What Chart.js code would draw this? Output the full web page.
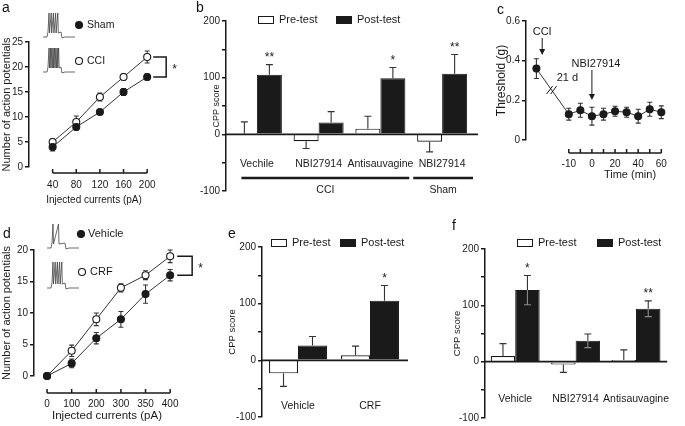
<!DOCTYPE html>
<html>
<head>
<meta charset="utf-8">
<script src="https://cdn.jsdelivr.net/npm/chart.js@4.4.1/dist/chart.umd.min.js"></script>
<style>
  html, body { margin: 0; background: #fff; }
  #fig { position: relative; width: 685px; height: 426px; overflow: hidden; }
  #fig canvas { position: absolute; left: 0; top: 0; }
  .tag { position: absolute; font: 14px 'Liberation Sans', Arial, sans-serif; color: #111; line-height: 14px; }
</style>
</head>
<body>
<div id="fig">
  <canvas id="pa" width="685" height="426"></canvas>
  <canvas id="pb" width="685" height="426"></canvas>
  <canvas id="pc" width="685" height="426"></canvas>
  <canvas id="pd" width="685" height="426"></canvas>
  <canvas id="pe" width="685" height="426"></canvas>
  <canvas id="pf" width="685" height="426"></canvas>
  <div class="tag" style="left:2px;top:0px">a</div>
  <div class="tag" style="left:196px;top:0px">b</div>
  <div class="tag" style="left:497px;top:2px">c</div>
  <div class="tag" style="left:3px;top:226px">d</div>
  <div class="tag" style="left:228px;top:226px">e</div>
  <div class="tag" style="left:452px;top:218px">f</div>
</div>
<script>
/* ---------- data ---------- */

// a: spikes vs injected current, Sham / CCI
const aCurrents = [40, 80, 120, 160, 200];
const aSham = [4, 8, 11, 15, 18];
const aShamErr = [0.8, 0.6, 0.5, 0.7, 0.6];
const aCci = [5, 9, 14, 18, 22];
const aCciErr = [0.6, 1.2, 0.8, 0.6, 1.2];

// b: CPP scores
const bGroups = ['Vechile', 'NBI27914', 'Antisauvagine', 'NBI27914'];
const bPre = [1, -12, 10, -13];
const bPreErr = [21, 13, 22, 18];
const bPost = [105, 21, 99, 107];
const bPostErr = [18, 19, 19, 34];
const bStars = ['**', '', '*', '**'];
const bSets = [['CCI', 0, 2], ['Sham', 3, 3]];

// c: paw withdrawal threshold
const cTimeTicks = ['-10', '', '0', '', '20', '', '40', '', '60'];
const cBaseX = -2.8;            // pre-CCI point, left of the time axis
const cBase = 0.36, cBaseErr = 0.05;
const cThreshold = [0.13, 0.15, 0.12, 0.13, 0.145, 0.14, 0.12, 0.155, 0.14];
const cThresholdErr = [0.03, 0.035, 0.045, 0.03, 0.025, 0.025, 0.035, 0.035, 0.032];

// d: spikes vs injected current, Vehicle / CRF
const dCurrents = ['0', '100', '200', '300', '350', '400'];
const dVehicle = [0, 2, 6, 9, 13, 16];
const dVehicleErr = [0, 0.7, 0.9, 1.25, 1.45, 0.9];
const dCrf = [0, 4, 9, 14, 16, 19];
const dCrfErr = [0, 0.9, 1.0, 0.65, 0.7, 1.0];

// e
const eGroups = ['Vehicle', 'CRF'];
const ePre = [-23, 9];
const ePreErr = [23, 16];
const ePost = [26, 105];
const ePostErr = [16, 27];
const eStars = ['', '*'];

// f
const fGroups = ['Vehicle', 'NBI27914', 'Antisauvagine'];
const fPre = [10, -5, 3];
const fPreErr = [22, 14, 18];
const fPost = [127, 37, 94];
const fPostErr = [26, 12, 14];
const fStars = ['*', '', '**'];

/* ---------- shared setup ---------- */
const W = 685, H = 426;
const INK = '#1a1a1a';
const FONT = "'Liberation Sans', Arial, sans-serif";
Chart.defaults.font.family = FONT;
Chart.defaults.font.size = 10;
Chart.defaults.color = INK;
Chart.defaults.animation = false;
Chart.defaults.events = [];
Chart.defaults.plugins.legend.display = false;
Chart.defaults.plugins.tooltip.enabled = false;

// chart area in page pixels + fixed axis bands
function frame(left, top, right, bottom, yBand, xBand) {
  return { padding: { left: left - yBand, top: top, right: W - right, bottom: H - bottom - xBand } };
}

function yAxis(min, max, step, band, title, labelFn, titlePad, titleSize) {
  return {
    min, max,
    afterFit: s => { s.width = band; },
    border: { color: INK, width: 1.5 },
    grid: { drawOnChartArea: false, tickLength: 4, tickColor: INK, lineWidth: 1.5 },
    ticks: { stepSize: step, padding: 2, callback: labelFn },
    title: { display: true, text: title, padding: { top: titlePad || 0, bottom: 0 }, font: { size: titleSize || 11 } }
  };
}
const hundreds = v => (Math.round(v) % 100 ? '' : Math.round(v));

// linear x axis whose line is drawn a few px under the plot (see offsetAxis)
function xOffset(min, max, values, labels, band, pad, title, titleSize) {
  return {
    type: 'linear', min, max,
    afterFit: s => { s.height = band; },
    afterBuildTicks: s => { s.ticks = values.map(value => ({ value })); },
    border: { display: false },
    grid: { display: false, drawTicks: false },
    ticks: { padding: pad, autoSkip: false, maxRotation: 0, callback: (v, i) => labels[i] },
    title: { display: !!title, text: title || '', padding: 0, font: { size: titleSize || 11 } }
  };
}

// category labels sit above the bottom of the plot, under the zero line
function xBars(band, lift) {
  return {
    type: 'category',
    afterFit: s => { s.height = band; },
    border: { display: false },
    grid: { display: false, drawTicks: false },
    ticks: { mirror: true, padding: lift, autoSkip: false, maxRotation: 0, font: { size: 10.5 } }
  };
}

const offsetAxis = {
  id: 'offsetAxis',
  afterDraw(chart, args, opts) {
    if (!opts.gap) return;
    const s = chart.scales.x, ctx = chart.ctx;
    const y = chart.chartArea.bottom + opts.gap;
    const px = s.ticks.map(t => s.getPixelForValue(t.value));
    ctx.save();
    ctx.strokeStyle = INK; ctx.lineWidth = 1.5;
    ctx.beginPath();
    ctx.moveTo(px[0], y); ctx.lineTo(px[px.length - 1], y);
    px.forEach(p => { ctx.moveTo(p, y); ctx.lineTo(p, y - 4); });
    ctx.stroke();
    ctx.restore();
  }
};

const zeroLine = {
  id: 'zeroLine',
  afterDatasetsDraw(chart, args, opts) {
    if (opts.extend === undefined) return;
    const { ctx, chartArea } = chart;
    const y = chart.scales.y.getPixelForValue(0);
    ctx.save();
    ctx.strokeStyle = INK; ctx.lineWidth = 1.6;
    ctx.beginPath(); ctx.moveTo(chartArea.left, y); ctx.lineTo(chartArea.right + opts.extend, y); ctx.stroke();
    ctx.restore();
  }
};

function drawErrors(chart, phase) {
  const ctx = chart.ctx;
  chart.data.datasets.forEach((ds, di) => {
    if (!ds.errors) return;
    const meta = chart.getDatasetMeta(di);
    const isBar = meta.type === 'bar';
    if ((isBar ? 'after' : 'before') !== phase) return;
    const ys = chart.scales[meta.yAxisID];
    ctx.save();
    ctx.lineWidth = 1.1;
    meta.data.forEach((el, i) => {
      const e = ds.errors[i];
      if (!e) return;
      const raw = ds.data[i];
      const v = typeof raw === 'object' ? raw.y : raw;
      const x = el.x, cap = isBar ? 3.5 : 2.5;
      ctx.strokeStyle = '#333';
      ctx.beginPath();
      if (isBar) {
        const dir = v < 0 ? -1 : 1;
        const y0 = ys.getPixelForValue(v), y1 = ys.getPixelForValue(v + dir * e);
        ctx.moveTo(x, y0); ctx.lineTo(x, y1);
        ctx.moveTo(x - cap, y1); ctx.lineTo(x + cap, y1);
        ctx.stroke();
        if (ds.innerErr) {
          const y2 = ys.getPixelForValue(v - dir * e);
          ctx.strokeStyle = ds.innerErr;
          ctx.beginPath();
          ctx.moveTo(x, y0); ctx.lineTo(x, y2);
          ctx.moveTo(x - cap, y2); ctx.lineTo(x + cap, y2);
          ctx.stroke();
        }
      } else {
        const y1 = ys.getPixelForValue(v + e), y2 = ys.getPixelForValue(v - e);
        ctx.moveTo(x, y1); ctx.lineTo(x, y2);
        ctx.moveTo(x - cap, y1); ctx.lineTo(x + cap, y1);
        ctx.moveTo(x - cap, y2); ctx.lineTo(x + cap, y2);
        ctx.stroke();
      }
    });
    ctx.restore();
  });
}

const errorBars = {
  id: 'errorBars',
  beforeDatasetsDraw(chart) { drawErrors(chart, 'before'); },
  afterDatasetsDraw(chart) { drawErrors(chart, 'after'); }
};

Chart.register(offsetAxis, zeroLine, errorBars);

/* ---------- little drawing helpers ---------- */
function text(ctx, s, x, y, size, align) {
  ctx.font = (size || 10.5) + 'px ' + FONT;
  ctx.fillStyle = INK;
  ctx.textAlign = align || 'left';
  ctx.textBaseline = 'middle';
  ctx.fillText(s, x, y);
}

function dot(ctx, x, y, filled) {
  ctx.beginPath();
  ctx.arc(x, y, 3.5, 0, Math.PI * 2);
  ctx.fillStyle = filled ? INK : '#fff';
  ctx.fill();
  ctx.lineWidth = 1.1; ctx.strokeStyle = INK; ctx.stroke();
}

function swatch(ctx, x, y, filled, label) {
  ctx.fillStyle = filled ? INK : '#fff';
  ctx.fillRect(x, y - 4, 16, 8);
  if (!filled) { ctx.lineWidth = 1; ctx.strokeStyle = INK; ctx.strokeRect(x + 0.5, y - 3.5, 15, 7); }
  text(ctx, label, x + 21, y, 11);
}

// current-clamp sweep sketch next to the legend
function sweep(ctx, x, base, spikes, top) {
  ctx.save();
  ctx.strokeStyle = '#444'; ctx.lineWidth = 0.8;
  ctx.beginPath();
  ctx.moveTo(x, base); ctx.lineTo(x + 4, base); ctx.lineTo(x + 5, base - 5);
  const step = 11 / spikes;
  let px = x + 6;
  for (let k = 0; k < spikes; k++) {
    ctx.lineTo(px, top); ctx.lineTo(px + 0.5, base - 4);
    px += step;
  }
  ctx.lineTo(x + 18, base - 5); ctx.lineTo(x + 19, base + 1); ctx.lineTo(x + 22, base); ctx.lineTo(x + 32, base);
  ctx.stroke();
  ctx.restore();
}

function bracket(ctx, x0, x1, yTop, yBot) {
  ctx.save();
  ctx.strokeStyle = INK; ctx.lineWidth = 1.5;
  ctx.beginPath();
  ctx.moveTo(x0, yTop); ctx.lineTo(x1, yTop); ctx.lineTo(x1, yBot); ctx.lineTo(x0, yBot);
  ctx.stroke();
  ctx.restore();
  text(ctx, '*', x1 + 6, (yTop + yBot) / 2 + 3, 12);
}

function starsOver(chart, di, values, errs, marks) {
  const meta = chart.getDatasetMeta(di), ys = chart.scales.y;
  meta.data.forEach((el, i) => {
    if (!marks[i]) return;
    const tip = ys.getPixelForValue(values[i] + errs[i]);
    text(chart.ctx, marks[i], el.x, tip - 7, 12, 'center');
  });
}

function arrow(ctx, x, y0, y1) {
  ctx.save();
  ctx.strokeStyle = INK; ctx.fillStyle = INK; ctx.lineWidth = 1;
  ctx.beginPath(); ctx.moveTo(x, y0); ctx.lineTo(x, y1 - 5); ctx.stroke();
  ctx.beginPath(); ctx.moveTo(x - 3, y1 - 6); ctx.lineTo(x + 3, y1 - 6); ctx.lineTo(x, y1); ctx.closePath(); ctx.fill();
  ctx.restore();
}

const lineStyle = (filled) => ({
  borderColor: '#333', borderWidth: 1, pointRadius: 3.5, pointBorderWidth: 1.1,
  pointBackgroundColor: filled ? INK : '#fff', pointBorderColor: INK, clip: false, tension: 0
});

/* ---------- a ---------- */
new Chart(document.getElementById('pa'), {
  type: 'line',
  data: {
    datasets: [
      { data: aCurrents.map((x, i) => ({ x, y: aSham[i] })), errors: aShamErr, ...lineStyle(true) },
      { data: aCurrents.map((x, i) => ({ x, y: aCci[i] })), errors: aCciErr, ...lineStyle(false) }
    ]
  },
  options: {
    responsive: false, devicePixelRatio: 1,
    layout: frame(29, 42, 159, 167, 29, 39),
    scales: {
      x: xOffset(0, 220, aCurrents, aCurrents.map(String), 39, 12, 'Injected currents (pA)', 10),
      y: yAxis(0, 25, 5, 29, 'Number of action potentials')
    },
    plugins: { offsetAxis: { gap: 6 } }
  },
  plugins: [{
    id: 'aExtras',
    afterDraw(chart) {
      const ctx = chart.ctx, ys = chart.scales.y, xs = chart.scales.x;
      sweep(ctx, 43, 37, 5, 13);
      sweep(ctx, 43, 72, 8, 48);
      dot(ctx, 79, 25, true); text(ctx, 'Sham', 87, 25, 10.5);
      dot(ctx, 79, 61, false); text(ctx, 'CCI', 87, 61, 10.5);
      const xe = xs.getPixelForValue(aCurrents[aCurrents.length - 1]);
      bracket(ctx, xe + 6, xe + 19, ys.getPixelForValue(aCci[aCci.length - 1]), ys.getPixelForValue(aSham[aSham.length - 1]));
    }
  }]
});

/* ---------- b ---------- */
new Chart(document.getElementById('pb'), {
  type: 'bar',
  data: {
    labels: bGroups,
    datasets: [
      { label: 'Pre-test', data: bPre, errors: bPreErr, backgroundColor: '#fff', borderColor: INK, borderWidth: 1.2 },
      { label: 'Post-test', data: bPost, errors: bPostErr, backgroundColor: INK, borderColor: INK, borderWidth: 1 }
    ]
  },
  options: {
    responsive: false, devicePixelRatio: 1,
    layout: frame(226, 21, 473, 191, 26, 20),
    datasets: { bar: { categoryPercentage: 0.81, barPercentage: 1 } },
    scales: { x: xBars(20, 21), y: yAxis(-100, 200, 50, 26, 'CPP score', hundreds, 11.4, 9) },
    plugins: { zeroLine: { extend: 5 } }
  },
  plugins: [{
    id: 'bExtras',
    afterDraw(chart) {
      const ctx = chart.ctx, xs = chart.scales.x;
      swatch(ctx, 258, 20, false, 'Pre-test');
      swatch(ctx, 336, 20, true, 'Post-test');
      starsOver(chart, 1, bPost, bPostErr, bStars);
      const cat = xs.getPixelForValue(1) - xs.getPixelForValue(0);
      bSets.forEach(([name, i0, i1], k) => {
        const left = k === 0 ? xs.getPixelForValue(i0) - 0.25 * cat : xs.getPixelForValue(i0) - 0.5 * cat + 2;
        const right = k === 0 ? xs.getPixelForValue(i1) + 0.5 * cat - 2 : xs.getPixelForValue(i1) + 0.5 * cat;
        ctx.save(); ctx.strokeStyle = INK; ctx.lineWidth = 2.5;
        ctx.beginPath(); ctx.moveTo(left, 178); ctx.lineTo(right, 178); ctx.stroke(); ctx.restore();
        text(ctx, name, (left + right) / 2, 190, 10.5, 'center');
      });
    }
  }]
});

/* ---------- c ---------- */
new Chart(document.getElementById('pc'), {
  type: 'line',
  data: {
    datasets: [{
      data: [{ x: cBaseX, y: cBase }, ...cThreshold.map((y, i) => ({ x: i, y }))],
      errors: [cBaseErr, ...cThresholdErr],
      ...lineStyle(true)
    }]
  },
  options: {
    responsive: false, devicePixelRatio: 1,
    layout: frame(526, 21, 682, 140, 32, 30),
    scales: {
      x: xOffset(-3.7, 8.3, cTimeTicks.map((_, i) => i), cTimeTicks, 30, 18),
      y: yAxis(0, 0.6, 0.2, 32, 'Threshold (g)', v => String(+v.toFixed(1)), 0, 12)
    },
    plugins: { offsetAxis: { gap: 13 } }
  },
  plugins: [{
    id: 'cExtras',
    afterDraw(chart) {
      const ctx = chart.ctx, xs = chart.scales.x, ys = chart.scales.y;
      text(ctx, 'Time (min)', 630, 175, 11, 'center');
      const xc = xs.getPixelForValue(cBaseX + 0.5);
      text(ctx, 'CCI', xc, 32, 11, 'center');
      arrow(ctx, xc, 38, 55);
      const xn = xs.getPixelForValue(2);
      text(ctx, 'NBI27914', xn + 4, 64, 11, 'center');
      arrow(ctx, xn, 70, 100);
      // "21 d" gap on the connecting segment
      const xa = xs.getPixelForValue(cBaseX), ya = ys.getPixelForValue(cBase);
      const xb = xs.getPixelForValue(0), yb = ys.getPixelForValue(cThreshold[0]);
      const t = 0.47, mx = xa + (xb - xa) * t, my = ya + (yb - ya) * t;
      ctx.save();
      ctx.strokeStyle = INK; ctx.lineWidth = 1;
      [-2, 2].forEach(o => {
        ctx.beginPath(); ctx.moveTo(mx + o - 3, my + 4); ctx.lineTo(mx + o + 3, my - 4); ctx.stroke();
      });
      ctx.restore();
      text(ctx, '21 d', mx + 5, my - 12, 11);
    }
  }]
});

/* ---------- d ---------- */
const dIdx = dCurrents.map((_, i) => i);
new Chart(document.getElementById('pd'), {
  type: 'line',
  data: {
    datasets: [
      { data: dIdx.map(i => ({ x: i, y: dVehicle[i] })), errors: dVehicleErr, ...lineStyle(true) },
      { data: dIdx.map(i => ({ x: i, y: dCrf[i] })), errors: dCrfErr, ...lineStyle(false) }
    ]
  },
  options: {
    responsive: false, devicePixelRatio: 1,
    layout: frame(34, 250, 180, 376, 34, 47),
    scales: {
      x: xOffset(-0.53, 5.4, dIdx, dCurrents, 47, 22, 'Injected currents (pA)', 11.5),
      y: yAxis(0, 20, 5, 34, 'Number of action potentials')
    },
    plugins: { offsetAxis: { gap: 17 } }
  },
  plugins: [{
    id: 'dExtras',
    afterDraw(chart) {
      const ctx = chart.ctx, ys = chart.scales.y, xs = chart.scales.x;
      sweep(ctx, 47, 248, 2, 224);
      sweep(ctx, 47, 288, 5, 262);
      dot(ctx, 81, 234, true); text(ctx, 'Vehicle', 88, 234, 11);
      dot(ctx, 82, 272, false); text(ctx, 'CRF', 90, 272, 11);
      const xe = xs.getPixelForValue(dIdx[dIdx.length - 1]);
      bracket(ctx, xe + 7, xe + 22, ys.getPixelForValue(dCrf[dCrf.length - 1]), ys.getPixelForValue(dVehicle[dVehicle.length - 1]));
    }
  }]
});

/* ---------- e ---------- */
new Chart(document.getElementById('pe'), {
  type: 'bar',
  data: {
    labels: eGroups,
    datasets: [
      { label: 'Pre-test', data: ePre, errors: ePreErr, backgroundColor: '#fff', borderColor: INK, borderWidth: 1.2 },
      { label: 'Post-test', data: ePost, errors: ePostErr, backgroundColor: INK, borderColor: INK, borderWidth: 1 }
    ]
  },
  options: {
    responsive: false, devicePixelRatio: 1,
    layout: frame(262, 247, 406, 417, 35, 5),
    datasets: { bar: { categoryPercentage: 0.805, barPercentage: 1 } },
    scales: { x: xBars(5, 5), y: yAxis(-100, 200, 50, 35, 'CPP score', hundreds, 0, 9.5) },
    plugins: { zeroLine: { extend: 2 } }
  },
  plugins: [{
    id: 'eExtras',
    afterDraw(chart) {
      swatch(chart.ctx, 271, 243, false, 'Pre-test');
      swatch(chart.ctx, 340, 243, true, 'Post-test');
      starsOver(chart, 1, ePost, ePostErr, eStars);
    }
  }]
});

/* ---------- f ---------- */
new Chart(document.getElementById('pf'), {
  type: 'bar',
  data: {
    labels: fGroups,
    datasets: [
      { label: 'Pre-test', data: fPre, errors: fPreErr, backgroundColor: '#fff', borderColor: INK, borderWidth: 1.2 },
      { label: 'Post-test', data: fPost, errors: fPostErr, innerErr: '#8a8a8a', backgroundColor: INK, borderColor: INK, borderWidth: 1 }
    ]
  },
  options: {
    responsive: false, devicePixelRatio: 1,
    layout: frame(485, 249, 667, 419, 33, 5),
    datasets: { bar: { categoryPercentage: 0.81, barPercentage: 1 } },
    scales: { x: xBars(5, 13), y: yAxis(-100, 200, 50, 33, 'CPP score', hundreds, 0, 9.5) },
    plugins: { zeroLine: { extend: 1 } }
  },
  plugins: [{
    id: 'fExtras',
    afterDraw(chart) {
      swatch(chart.ctx, 517, 243, false, 'Pre-test');
      swatch(chart.ctx, 597, 243, true, 'Post-test');
      starsOver(chart, 1, fPost, fPostErr, fStars);
    }
  }]
});
</script>
</body>
</html>
